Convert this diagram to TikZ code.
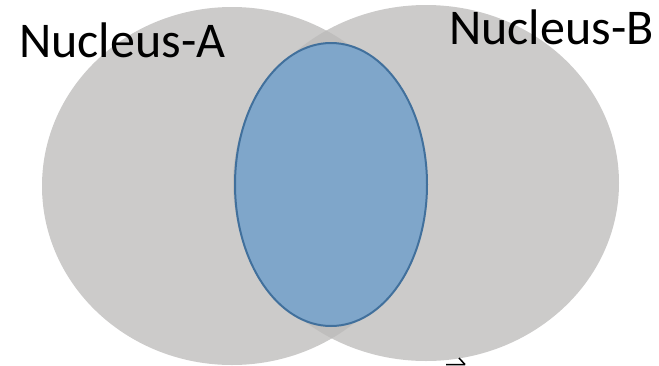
\documentclass[tikz,border=0pt]{standalone}
\usepackage{fontspec}
\setmainfont{Carlito}
\usetikzlibrary{shapes.geometric}
\definecolor{nucgray}{HTML}{CCCBCA}
\definecolor{overgray}{HTML}{BFBEBD}
\definecolor{corefill}{HTML}{7FA6CA}
\definecolor{coreline}{HTML}{41709C}
\begin{document}
\begin{tikzpicture}[x=1pt,y=-1pt,
  nucleus/.style={fill=nucgray,draw=none},
  label/.style={font=\fontsize{50}{50}\selectfont,text=black,inner sep=0pt,anchor=base west}]
\useasboundingbox (0,0) rectangle (659,365);
\begin{scope}
\clip (0,0) rectangle (659,365);
\path[nucleus] (232,186) ellipse [x radius=190,y radius=179];
\path[nucleus] (426,183) ellipse [x radius=193,y radius=178];
\begin{scope}
\clip (232,186) ellipse [x radius=190,y radius=179];
\path[fill=overgray] (426,183) ellipse [x radius=193,y radius=178];
\end{scope}
\end{scope}
\node[draw=coreline,fill=corefill,line width=2pt,ellipse,minimum width=192pt,minimum height=283pt,inner sep=0pt] (core) at (331,184.5) {};
\node[label] (la) at (19,57) {Nucleus-A};
\node[label] (lb) at (449,44) {Nucleus-B};
\coordinate (m1) at (446,364.5);
\coordinate (m2) at (465,364.5);
\coordinate (m3) at (459,358);
\draw[line width=1.5pt] (m1) -- (m2) (m3) -- (m2);
\end{tikzpicture}
\end{document}
